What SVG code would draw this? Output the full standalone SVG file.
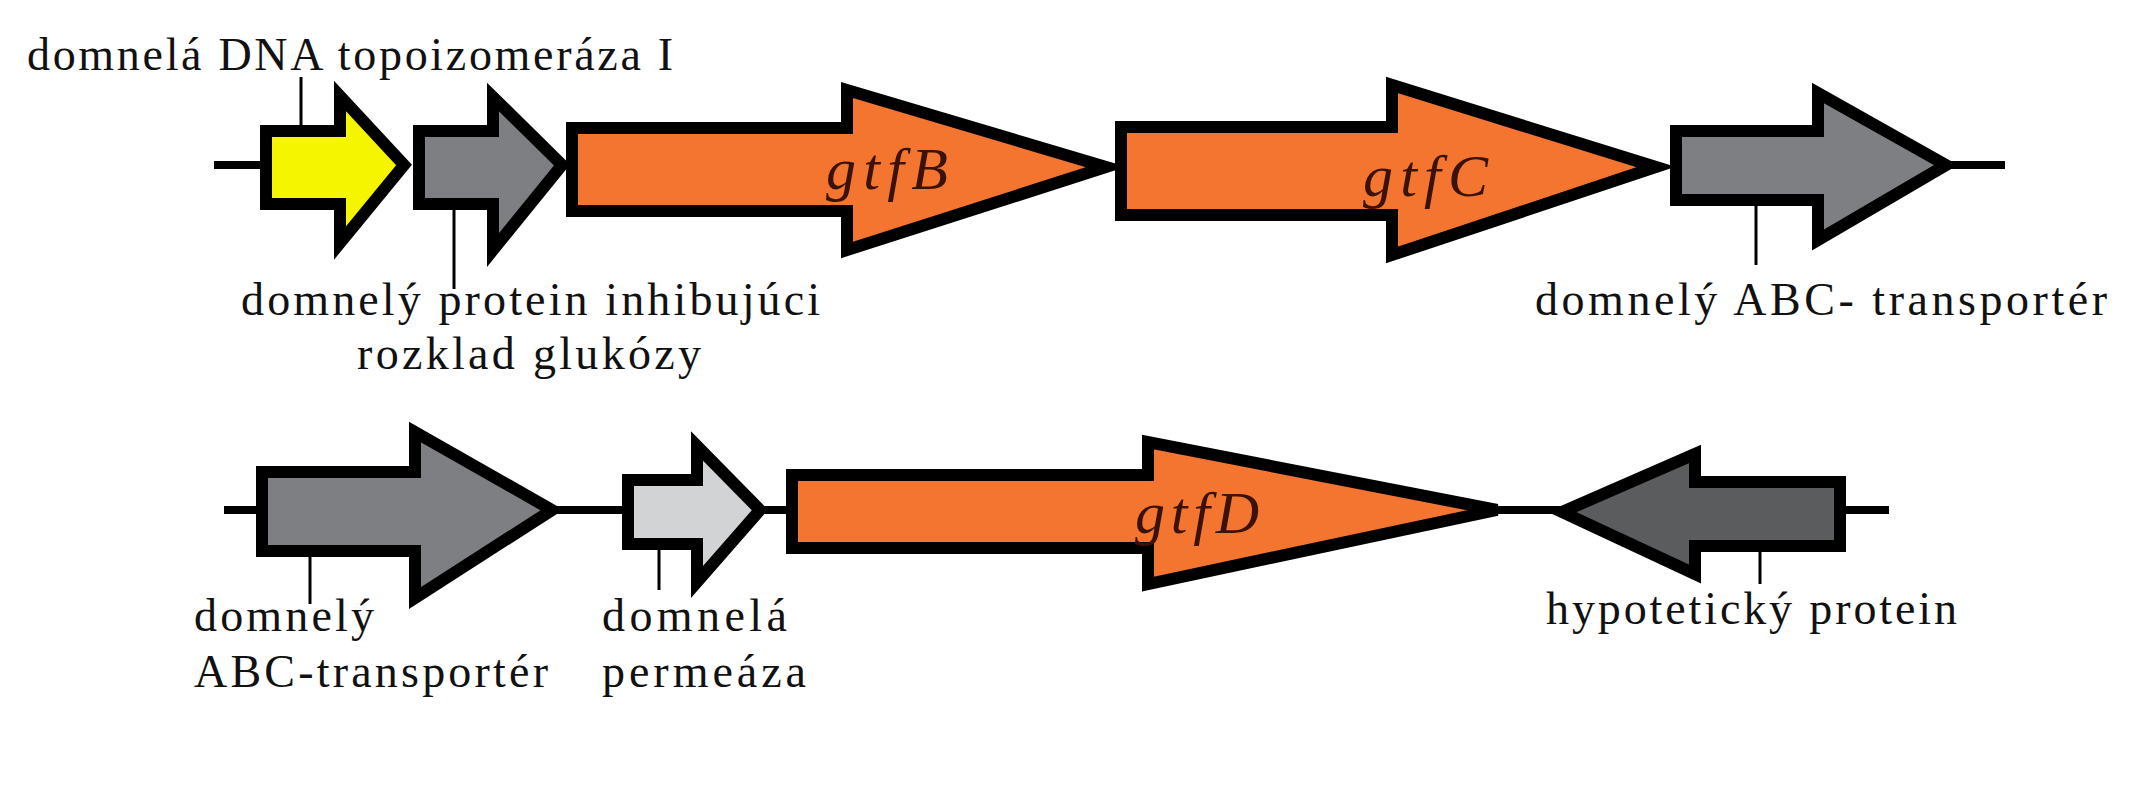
<svg xmlns="http://www.w3.org/2000/svg" width="2132" height="800" viewBox="0 0 2132 800">
<style>
.g{stroke:#000;stroke-width:12;stroke-linejoin:miter}
.bb{stroke:#000;stroke-width:8;fill:none}
.ld{stroke:#000;stroke-width:3;fill:none}
.t{font-family:"Liberation Serif",serif;font-size:46px;fill:#111}
.n{font-family:"Liberation Serif",serif;font-size:60px;font-style:italic;fill:#3a1208}
</style>
<rect width="2132" height="800" fill="#fff"/>
<g id="connectors">
<line class="bb" x1="214" y1="165" x2="270" y2="165"/>
<line class="bb" x1="1940" y1="165" x2="2005" y2="165"/>
<line class="bb" x1="224" y1="510" x2="262" y2="510"/>
<line class="bb" x1="550" y1="510" x2="630" y2="510"/>
<line class="bb" x1="760" y1="510" x2="792" y2="510"/>
<line class="bb" x1="1495" y1="510" x2="1565" y2="510"/>
<line class="bb" x1="1838" y1="510" x2="1889" y2="510"/>
<line class="ld" x1="301" y1="77" x2="301" y2="151"/>
<line class="ld" x1="454" y1="192" x2="454" y2="289"/>
<line class="ld" x1="1756" y1="184" x2="1756" y2="265"/>
<line class="ld" x1="310" y1="539" x2="310" y2="604"/>
<line class="ld" x1="659" y1="529" x2="659" y2="590"/>
<line class="ld" x1="1760" y1="529" x2="1760" y2="584"/>
</g>
<g id="topo"><polygon class="g" fill="#f5f500" points="266,131 340,131 340,96 404,165 340,243 340,204 266,204"/></g>
<g id="inhib"><polygon class="g" fill="#7d7f82" points="419,131 493,131 493,97 562,165 493,250 493,204 419,204"/></g>
<g id="gtfB"><polygon class="g" fill="#f47530" points="572,128 847,128 847,90 1106,167 847,250 847,211 572,211"/><text class="n" x="826" y="189" textLength="122">gtfB</text></g>
<g id="gtfC"><polygon class="g" fill="#f47530" points="1121,127 1392,127 1392,85 1656,167 1392,255 1392,215 1121,215"/><text class="n" x="1363" y="196" textLength="125">gtfC</text></g>
<g id="abc1"><polygon class="g" fill="#7d7f82" points="1676,131 1818,131 1818,93 1946,165 1818,240 1818,200 1676,200"/></g>
<g id="abc2"><polygon class="g" fill="#7d7f82" points="262,472 415,472 415,432 552,510 415,598 415,551 262,551"/></g>
<g id="perm"><polygon class="g" fill="#d2d3d4" points="628,480 697,480 697,446 760,510 697,582 697,544 628,544"/></g>
<g id="gtfD"><polygon class="g" fill="#f47530" points="792,475 1148,475 1148,442 1497,510 1148,584 1148,548 792,548"/><text class="n" x="1135" y="533" textLength="124">gtfD</text></g>
<g id="hypo"><polygon class="g" fill="#5a5c5e" points="1840,482 1695,482 1695,454 1562,512 1695,574 1695,546 1840,546"/></g>
<g id="labels">
<text class="t" x="27" y="70" textLength="646">domnelá DNA topoizomeráza I</text>
<text class="t" x="241" y="315" textLength="579">domnelý protein inhibujúci</text>
<text class="t" x="357" y="369" textLength="344">rozklad glukózy</text>
<text class="t" x="1535" y="315" textLength="572">domnelý ABC- transportér</text>
<text class="t" x="194" y="631" textLength="180">domnelý</text>
<text class="t" x="194" y="687" textLength="354">ABC-transportér</text>
<text class="t" x="602" y="631" textLength="185">domnelá</text>
<text class="t" x="602" y="687" textLength="204">permeáza</text>
<text class="t" x="1546" y="624" textLength="411">hypotetický protein</text>
</g>
</svg>
